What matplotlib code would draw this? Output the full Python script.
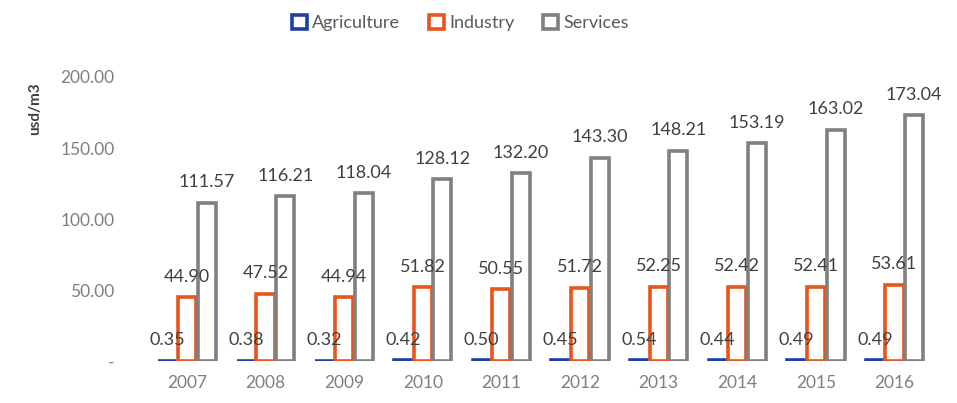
import numpy as np
import matplotlib.pyplot as plt

plt.rcParams['font.family'] = ['Lato', 'DejaVu Sans']

years = ['2007', '2008', '2009', '2010', '2011', '2012', '2013', '2014', '2015', '2016']
agriculture = [0.35, 0.38, 0.32, 0.42, 0.50, 0.45, 0.54, 0.44, 0.49, 0.49]
industry = [44.90, 47.52, 44.94, 51.82, 50.55, 51.72, 52.25, 52.42, 52.41, 53.61]
services = [111.57, 116.21, 118.04, 128.12, 132.20, 143.30, 148.21, 153.19, 163.02, 173.04]
yticks = [0, 50, 100, 150, 200]
ytick_labels = ['-', '50.00', '100.00', '150.00', '200.00']

series = [
    ('Agriculture', agriculture, '#1f3fa8'),
    ('Industry', industry, '#e8541a'),
    ('Services', services, '#808080'),
]

fig = plt.figure(figsize=(9.57, 4.03), dpi=100)
ax = fig.add_axes([0.146, 0.104, 0.838, 0.705])

x = np.arange(len(years))
w = 0.23
offsets = [-0.25, 0.0, 0.25]
for (name, vals, col), off in zip(series, offsets):
    ax.bar(x + off, vals, width=w, facecolor='white', edgecolor=col,
           linewidth=2.6, label=name)
    for xi, v in zip(x, vals):
        ax.annotate(f'{v:.2f}', (xi + off, v), xytext=(0, 9),
                    textcoords='offset points', ha='center', va='bottom',
                    fontsize=13, color='#404040', clip_on=False)

ax.set_xlim(-0.6, 9.6)
ax.set_ylim(0, 200)
ax.set_xticks(x)
ax.set_xticklabels(years)
ax.set_yticks(yticks)
ax.set_yticklabels(ytick_labels)
ax.tick_params(axis='both', length=0, labelsize=12.5, colors='#7f7f7f')
ax.tick_params(axis='y', pad=18)
ax.tick_params(axis='x', pad=10)
for s in ax.spines.values():
    s.set_visible(False)

fig.text(0.037, 0.73, 'usd/m3', rotation=90, ha='center', va='center',
         fontsize=11, fontweight='bold', color='#404040')

ax.legend(loc='center', bbox_to_anchor=(0.40, 1.19), ncol=3, frameon=False,
          fontsize=13, labelcolor='#595959', handlelength=0.8, handleheight=0.8,
          handletextpad=0.3, columnspacing=1.6)

plt.savefig('out.png', dpi=100)
